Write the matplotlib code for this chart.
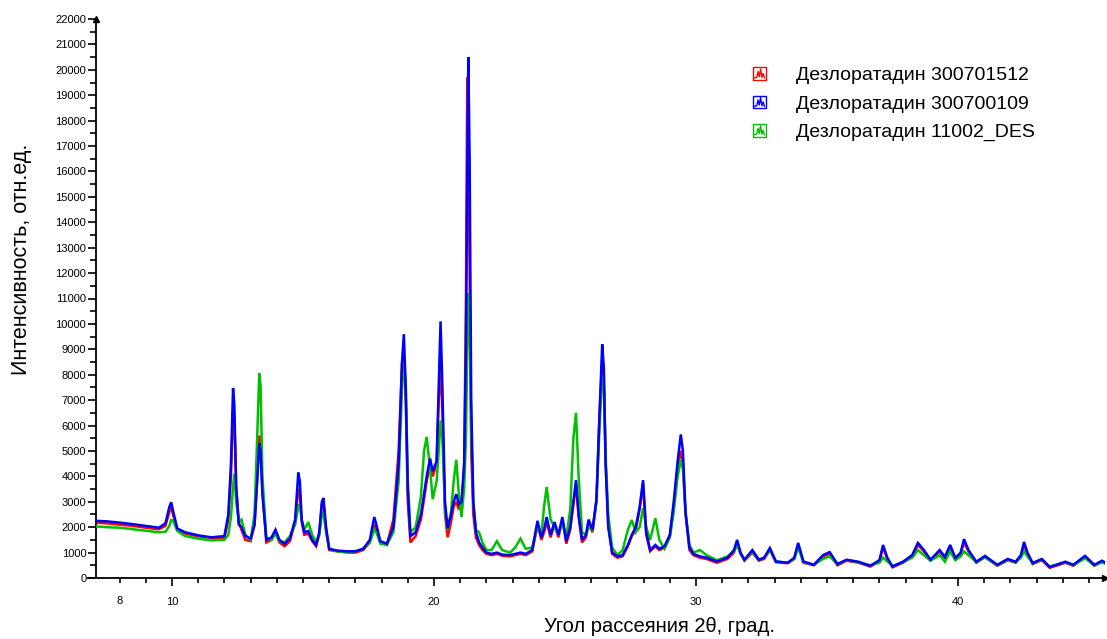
import matplotlib
matplotlib.use('Agg')
import matplotlib.pyplot as plt
from matplotlib.legend_handler import HandlerBase
from matplotlib.patches import Rectangle
from matplotlib.lines import Line2D
from matplotlib.ticker import FixedLocator, MultipleLocator, FuncFormatter

plt.rcParams['font.family'] = ['Liberation Sans', 'DejaVu Sans']

# ---------------- data ----------------
two_theta = [
    7.1, 7.5, 8.0, 8.5, 9.0, 9.5, 9.75, 9.9, 9.97, 10.05, 10.2, 10.5, 11.0, 11.5, 12.0,
    12.15, 12.25, 12.33, 12.38, 12.45, 12.55, 12.65, 12.8, 13.0, 13.15, 13.25, 13.33, 13.38,
    13.45, 13.6, 13.8, 13.95, 14.1, 14.3, 14.5, 14.7, 14.82, 14.88, 14.95, 15.05, 15.2, 15.35,
    15.5, 15.62, 15.72, 15.78, 15.88, 16.0, 16.3, 16.7, 17.0, 17.3, 17.55, 17.72, 17.8, 17.95,
    18.2, 18.45, 18.65, 18.78, 18.85, 18.92, 19.0, 19.1, 19.3, 19.5, 19.62, 19.72, 19.85, 19.95,
    20.1, 20.18, 20.25, 20.32, 20.42, 20.52, 20.65, 20.75, 20.85, 20.95, 21.05, 21.15, 21.22,
    21.27, 21.31, 21.36, 21.42, 21.5, 21.6, 21.72, 21.85, 22.0, 22.2, 22.4, 22.6, 22.9, 23.1,
    23.3, 23.5, 23.75, 23.95, 24.1, 24.2, 24.3, 24.45, 24.6, 24.75, 24.9, 25.05, 25.2, 25.32,
    25.42, 25.52, 25.65, 25.8, 25.9, 26.05, 26.2, 26.32, 26.42, 26.48, 26.55, 26.65, 26.8,
    27.0, 27.2, 27.4, 27.55, 27.7, 27.85, 27.98, 28.1, 28.25, 28.45, 28.6, 28.8, 29.0, 29.15,
    29.3, 29.42, 29.5, 29.6, 29.75, 29.9, 30.15, 30.4, 30.8, 31.2, 31.45, 31.57, 31.7, 31.85,
    32.15, 32.4, 32.6, 32.82, 33.05, 33.5, 33.75, 33.9, 34.1, 34.5, 34.85, 35.1, 35.4, 35.75,
    36.2, 36.65, 37.0, 37.14, 37.3, 37.5, 37.9, 38.25, 38.47, 38.7, 38.95, 39.3, 39.5, 39.7,
    39.9, 40.1, 40.23, 40.4, 40.7, 41.03, 41.5, 41.9, 42.2, 42.4, 42.52, 42.65, 42.85, 43.2,
    43.5, 44.1, 44.4, 44.85, 45.2, 45.5, 45.7,
]

# Дезлоратадин 300701512 (red)
int_300701512 = [
    2180, 2150, 2100, 2050, 1980, 1920, 2050, 2600, 2780, 2450, 1900, 1750, 1640, 1580, 1580,
    2300, 4000, 6500, 6300, 3500, 2200, 1900, 1500, 1450, 2100, 3900, 5600, 5400,
    3500, 1400, 1500, 1800, 1400, 1250, 1450, 2200, 3500, 3300, 2200, 1700, 1750, 1450,
    1250, 1700, 2900, 3000, 1900, 1100, 1050, 1000, 1000, 1100, 1400, 2100, 1900, 1400,
    1300, 2300, 5000, 8500, 8700, 7000, 3000, 1400, 1650, 2300, 3100, 3800, 4500, 4000,
    4500, 7000, 8400, 6500, 2500, 1600, 2200, 2800, 3000, 2700, 2900, 4300, 11000,
    19700, 17000, 12000, 5000, 2500, 1600, 1300, 1100, 950, 900, 950, 880, 850, 900,
    950, 900, 1050, 2100, 1500, 1800, 2200, 1600, 2100, 1600, 2300, 1350, 1900, 2900,
    3700, 2400, 1400, 1600, 2200, 1800, 3000, 6500, 8600, 8200, 4600, 2100, 950,
    800, 850, 1250, 1650, 1900, 2700, 3700, 1700, 1050, 1250, 1100, 1200, 1600, 2800,
    4400, 5000, 4500, 2500, 1100, 900, 800, 750, 600, 750, 1000, 1400, 950, 680,
    1000, 680, 750, 1100, 620, 580, 750, 1300, 600, 500, 850, 950, 500, 680,
    600, 450, 650, 1200, 750, 420, 600, 850, 1300, 1050, 700, 1050, 800, 1200,
    750, 950, 1400, 1050, 600, 820, 480, 700, 600, 850, 1300, 950, 550, 700,
    400, 600, 480, 830, 480, 640, 520,
]

# Дезлоратадин 300700109 (blue)
int_300700109 = [
    2250, 2230, 2180, 2120, 2050, 1980, 2150, 2800, 2980, 2600, 1950, 1800, 1680, 1600, 1650,
    2500, 4500, 7480, 6800, 3600, 2100, 2000, 1650, 1550, 2100, 3800, 5300, 5000,
    3300, 1500, 1600, 1900, 1500, 1350, 1550, 2300, 4150, 3800, 2300, 1800, 1850, 1500,
    1300, 1800, 3000, 3150, 2000, 1150, 1080, 1050, 1050, 1150, 1500, 2400, 2100, 1450,
    1350, 2000, 4500, 8500, 9600, 7500, 3500, 1650, 1800, 2500, 3300, 4000, 4700, 4200,
    4600, 7500, 10100, 7500, 3000, 1950, 2500, 3000, 3300, 2900, 3000, 4500, 9000,
    16000, 20500, 16500, 7000, 3000, 1800, 1400, 1200, 1000, 950, 1000, 920, 900, 950,
    1000, 950, 1100, 2250, 1600, 1900, 2400, 1700, 2200, 1700, 2400, 1450, 2000, 3000,
    3850, 2500, 1500, 1700, 2300, 1900, 3100, 6500, 9200, 8300, 4500, 2000, 1000,
    850, 900, 1300, 1700, 2000, 2800, 3850, 1800, 1100, 1300, 1150, 1250, 1700, 3000,
    4600, 5650, 5000, 2600, 1200, 950, 850, 800, 650, 800, 1100, 1500, 1000, 720,
    1100, 720, 800, 1180, 650, 600, 800, 1380, 650, 520, 900, 1020, 550, 720,
    640, 480, 700, 1300, 800, 450, 640, 900, 1380, 1100, 720, 1100, 830, 1300,
    790, 1000, 1530, 1100, 640, 870, 520, 750, 640, 900, 1420, 1000, 590, 750,
    430, 640, 520, 870, 520, 680, 560,
]

# Дезлоратадин 11002_DES (green)
int_11002_des = [
    2030, 2000, 1980, 1920, 1860, 1800, 1820, 2050, 2280, 2250, 1850, 1650, 1550, 1480, 1500,
    1700, 2400, 3600, 4100, 3000, 2200, 2300, 1700, 1500, 2500, 5500, 8050, 7600,
    4000, 1600, 1500, 1750, 1450, 1400, 1650, 2100, 2800, 2900, 2300, 1900, 2200, 1700,
    1400, 1700, 2500, 2600, 1800, 1150, 1050, 1020, 1050, 1150, 1400, 1900, 1800, 1350,
    1300, 1800, 3800, 7500, 8500, 7800, 3800, 1800, 2000, 3200, 5000, 5550, 4300, 3100,
    3800, 5000, 6200, 5500, 2700, 1900, 2600, 3800, 4650, 3300, 2400, 3500, 5500,
    9000, 11200, 10000, 6000, 3000, 1900, 1800, 1400, 1100, 1100, 1450, 1100, 1000, 1200,
    1550, 1150, 1200, 2000, 1700, 2800, 3580, 2300, 2000, 1700, 2200, 1600, 2700, 5500,
    6500, 4000, 1800, 1700, 2000, 1900, 3000, 6000, 8000, 7600, 4800, 2500, 1200,
    900, 1100, 1900, 2280, 1800, 2000, 2750, 2000, 1500, 2350, 1500, 1150, 1600, 2600,
    4000, 4650, 4300, 2600, 1300, 1000, 1100, 900, 700, 850, 1050, 1300, 950, 700,
    1050, 700, 800, 1100, 650, 600, 750, 1200, 620, 520, 750, 850, 550, 700,
    620, 500, 600, 800, 650, 480, 620, 800, 1100, 900, 680, 900, 640, 1050,
    700, 850, 1050, 900, 620, 820, 500, 720, 620, 800, 1050, 850, 580, 720,
    450, 620, 500, 780, 500, 620, 530,
]

series_labels = ['Дезлоратадин 300701512', 'Дезлоратадин 300700109', 'Дезлоратадин 11002_DES']
series_colors = ['#ff0000', '#0000ff', '#00c000']

x_label = 'Угол рассеяния 2θ, град.'
y_label = 'Интенсивность, отн.ед.'
x_major_ticks = [10, 20, 30, 40]
x_extra_label = [8]

# ---------------- figure ----------------
W, H = 1107, 639
fig = plt.figure(figsize=(W / 100, H / 100), dpi=100)
ax = fig.add_axes([96 / W, (H - 578) / H, (1105 - 96) / W, (578 - 19) / H])

px_per_deg = 26.2
x_left = 10 + (96 - 172) / px_per_deg
x_right = 10 + (1105 - 172) / px_per_deg
ax.set_xlim(x_left, x_right)
ax.set_ylim(0, 22000)

lines = {}
for vals, lab, col, z in [(int_300701512, series_labels[0], series_colors[0], 2),
                          (int_11002_des, series_labels[2], series_colors[2], 3),
                          (int_300700109, series_labels[1], series_colors[1], 4)]:
    ln, = ax.plot(two_theta, vals, color=col, lw=1.8, label=lab, zorder=z,
                  solid_joinstyle='miter')
    lines[lab] = ln

for s in ['top', 'right']:
    ax.spines[s].set_visible(False)
for s in ['left', 'bottom']:
    ax.spines[s].set_linewidth(1.3)

# axis arrows and small left extension of x axis
ax.plot([1.0], [0.0], marker='>', ms=5, color='k', transform=ax.transAxes, clip_on=False)
ax.plot([0.0], [1.0], marker='^', ms=5, color='k', transform=ax.transAxes, clip_on=False)
ax.plot([-0.009, 0.0], [0.0, 0.0], color='k', lw=1.3, transform=ax.transAxes, clip_on=False,
        solid_capstyle='butt')

# y ticks
ax.yaxis.set_major_locator(MultipleLocator(1000))
ax.yaxis.set_minor_locator(MultipleLocator(500))
ax.tick_params(axis='y', which='major', length=6, width=1.2, pad=1, labelsize=8)
ax.tick_params(axis='y', which='minor', length=4, width=1.2)

# x ticks
ax.xaxis.set_major_locator(FixedLocator(x_major_ticks))
ax.xaxis.set_minor_locator(MultipleLocator(1))
ax.xaxis.set_minor_formatter(FuncFormatter(lambda v, p: ('%d' % v) if round(v) in x_extra_label else ''))
ax.tick_params(axis='x', which='major', length=6, width=1.2, pad=7.5, labelsize=8)
ax.tick_params(axis='x', which='minor', length=3.5, width=1.2, pad=9.5, labelsize=8)

ax.set_xlabel(x_label, fontsize=14.5)
ax.set_ylabel(y_label, fontsize=15.5)
ax.xaxis.set_label_coords((660 - 96) / (1105 - 96), -(617 - 578) / (578 - 19))
ax.yaxis.set_label_coords(-(96 - 32) / (1105 - 96), (578 - 259) / (578 - 19))


class SpectrumIcon(HandlerBase):
    def create_artists(self, legend, orig_handle, xdescent, ydescent, width, height,
                       fontsize, trans):
        c = orig_handle.get_color()
        s = min(width, height)
        x0 = -xdescent + (width - s) / 2
        y0 = -ydescent + (height - s) / 2
        rect = Rectangle((x0, y0), s, s, fill=False, edgecolor=c, lw=1.0, transform=trans)
        zx = [0.12, 0.3, 0.4, 0.5, 0.6, 0.7, 0.8, 0.9]
        zy = [0.15, 0.2, 0.65, 0.25, 0.85, 0.2, 0.5, 0.15]
        zz = Line2D([x0 + s * a for a in zx], [y0 + s * b for b in zy], color=c, lw=1.0,
                    transform=trans)
        return [rect, zz]


handles = [lines[l] for l in series_labels]
leg = ax.legend(handles, series_labels, loc='upper left', frameon=False,
                bbox_to_anchor=(753 / W, (H - 67) / H), bbox_transform=fig.transFigure,
                fontsize=14, handlelength=0.65, handleheight=0.65, handletextpad=1.55,
                labelspacing=0.57, borderaxespad=0, borderpad=0,
                handler_map={Line2D: SpectrumIcon()})

fig.savefig('out.png', dpi=100)
